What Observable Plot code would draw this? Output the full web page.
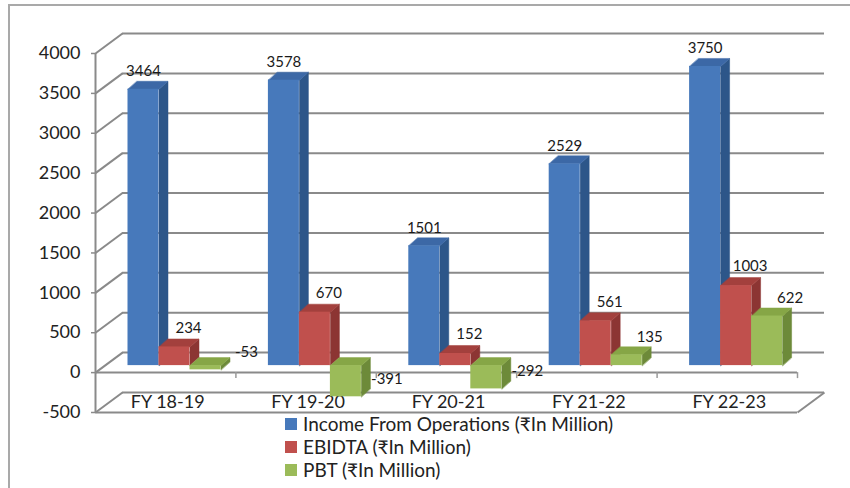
<!DOCTYPE html>
<html><head><meta charset="utf-8">
<script src="https://cdn.jsdelivr.net/npm/d3@7"></script>
<script src="https://cdn.jsdelivr.net/npm/@observablehq/plot@0.6"></script>
<style>
body{margin:0;background:#fff;font-family:Lato,"Noto Sans",sans-serif}
#wrap{position:relative;width:850px;height:488px;overflow:hidden;background:#fff}
#frame{position:absolute;left:8px;top:4px;right:-10px;bottom:-10px;border-top:2px solid #a9a9a9;border-left:2px solid #a9a9a9;pointer-events:none}
#legend{position:absolute;left:285px;top:412px;font-size:19px;color:#222;font-family:Lato,"Noto Sans",sans-serif}
.item{display:flex;align-items:center;height:23px;white-space:nowrap}
.sw{width:12px;height:12px;margin-right:6px;flex:none}
</style></head>
<body><div id="wrap"><div id="chart"></div><div id="legend"></div><div id="frame"></div></div>
<script>
// ---- data ----
const categories = ["FY 18-19", "FY 19-20", "FY 20-21", "FY 21-22", "FY 22-23"];
const seriesNames = ["Income From Operations (₹In Million)", "EBIDTA (₹In Million)", "PBT (₹In Million)"];
const income = [3464, 3578, 1501, 2529, 3750];
const ebidta = [234, 670, 152, 561, 1003];
const pbt = [-53, -391, -292, 135, 622];
const yTicks = [-500, 0, 500, 1000, 1500, 2000, 2500, 3000, 3500, 4000];

// ---- styles ----
const frontColors = ["#4779bb", "#c0504d", "#9bbb59"];
const topColors = ["#3c68a6", "#a3403d", "#86a646"];
const sideColors = ["#2d5689", "#8c3533", "#6d8a39"];
const gridColor = "#8a8a8a";

// ---- geometry ----
const W = 850, H = 416, mL = 95, mR = 53, mT = 53, mB = 4;
const yDomain = [-500, 4000];
const nCat = categories.length;
const ux = nCat / (W - mL - mR);              // category units per px
const uy = (yDomain[1] - yDomain[0]) / (H - mT - mB); // value units per px
const wall = {x: 27 * ux, y: 20 * uy};
const barOffset = 23.5, barW = 31, barDX = 9 * ux, barDY = 8 * uy;
const shift = {dx: 9, dy: -7};

const seriesVals = [income, ebidta, pbt];
const bars = [], tops = [], sides = [];
categories.forEach((c, i) => {
  seriesVals.forEach((vals, k) => {
    const v = vals[i];
    const x1 = i + (barOffset + barW * k) * ux, x2 = x1 + barW * ux;
    const lo = Math.min(0, v), hi = Math.max(0, v);
    const id = i + "-" + k;
    bars.push({i, k, v, x1, x2, cx: (x1 + x2) / 2, lo, hi});
    [[x1, hi], [x2, hi], [x2 + barDX, hi + barDY], [x1 + barDX, hi + barDY]]
      .forEach(([x, y]) => tops.push({id, x, y, color: topColors[k]}));
    [[x2, lo], [x2, hi], [x2 + barDX, hi + barDY], [x2 + barDX, lo + barDY]]
      .forEach(([x, y]) => sides.push({id, x, y, color: sideColors[k]}));
  });
});

const font = "Lato, 'Noto Sans', sans-serif";
const labelStyle = {x: "cx", y: "v", text: d => String(d.v), fontSize: 15, fill: "#1a1a1a"};

const chart = Plot.plot({
  width: W, height: H,
  marginLeft: mL, marginRight: mR, marginTop: mT, marginBottom: mB,
  style: {background: "transparent", fontFamily: font, overflow: "visible"},
  x: {domain: [0, nCat], axis: null},
  y: {domain: yDomain, axis: null},
  color: {type: "identity"},
  marks: [
    // back wall gridlines
    Plot.ruleY(yTicks, {x1: 0, x2: nCat, dx: 27, dy: -20, stroke: gridColor, strokeWidth: 2}),
    // left side diagonals
    Plot.link(yTicks, {x1: 0, y1: d => d, x2: wall.x, y2: d => d + wall.y, stroke: gridColor, strokeWidth: 2}),
    // front vertical axis
    Plot.ruleX([0], {y1: yDomain[0], y2: yDomain[1], stroke: gridColor, strokeWidth: 2}),
    Plot.ruleY(yTicks, {x1: 0, x2: -4 * ux, stroke: gridColor, strokeWidth: 1.5}),
    // floor front edge at 0
    Plot.ruleY([0], {x1: 0, x2: nCat, stroke: gridColor, strokeWidth: 2}),
    Plot.ruleX(d3.range(1, nCat + 1), {y1: 0, y2: -6 * uy, stroke: "#9a9a9a", strokeWidth: 1.5}),
    // bottom strip at -500
    Plot.ruleY([yDomain[0]], {x1: 0, x2: nCat, stroke: gridColor, strokeWidth: 2}),
    Plot.link([yDomain[0]], {x1: nCat, y1: d => d, x2: nCat + wall.x, y2: d => d + wall.y, stroke: gridColor, strokeWidth: 2}),
    // y tick labels
    Plot.text(yTicks, {x: 0, y: d => d, text: d => String(d), textAnchor: "end", dx: -15, fontSize: 18, fill: "#222"}),
    // category labels
    Plot.text(categories, {x: (d, i) => i + 0.5, y: yDomain[0], text: d => d, dx: 2, dy: -10, fontSize: 18, fill: "#222"}),
    // bars
    Plot.line(sides, {x: "x", y: "y", z: "id", fill: "color", stroke: "color", strokeWidth: 0.5, curve: "linear-closed", ...shift}),
    Plot.line(tops, {x: "x", y: "y", z: "id", fill: "color", stroke: "color", strokeWidth: 0.5, curve: "linear-closed", ...shift}),
    Plot.rect(bars, {x1: "x1", x2: "x2", y1: "lo", y2: "hi", fill: d => frontColors[d.k], ...shift}),
    // value labels
    Plot.text(bars.filter(d => d.k === 0), {...labelStyle, dx: 9, dy: -25}),
    Plot.text(bars.filter(d => d.k === 1), {...labelStyle, dx: 23, dy: -26}),
    Plot.text(bars.filter(d => d.k === 2 && d.v >= 0), {...labelStyle, dx: 32, dy: -25}),
    Plot.text(bars.filter(d => d.k === 2 && d.v < 0), {...labelStyle, dx: 50, dy: -25})
  ]
});
document.getElementById("chart").appendChild(chart);

const legend = document.getElementById("legend");
seriesNames.forEach((name, k) => {
  const item = document.createElement("div");
  item.className = "item";
  const sw = document.createElement("span");
  sw.className = "sw";
  sw.style.background = frontColors[k];
  const t = document.createElement("span");
  t.textContent = name;
  item.appendChild(sw); item.appendChild(t);
  legend.appendChild(item);
});
</script>
</body></html>
